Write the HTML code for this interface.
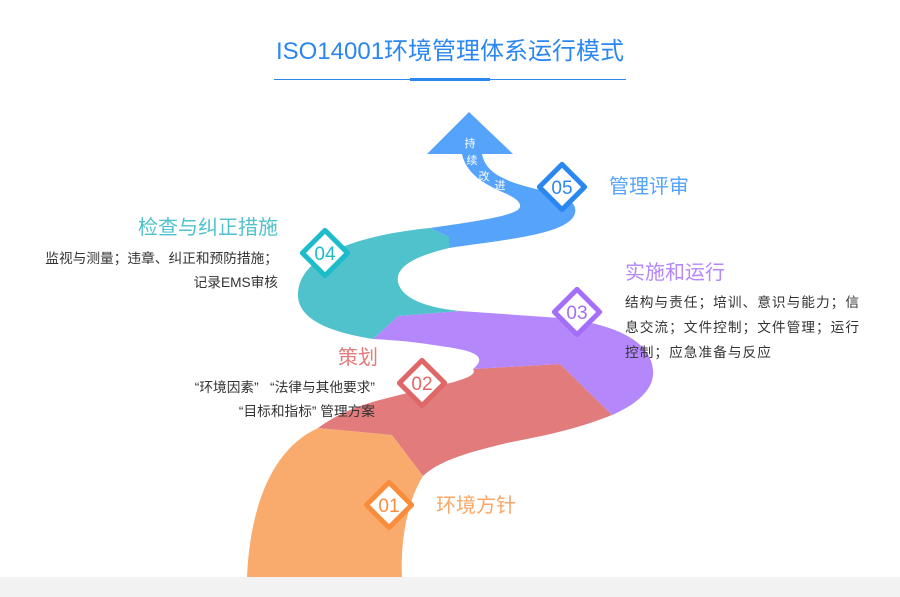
<!DOCTYPE html>
<html><head><meta charset="utf-8"><style>
body{margin:0;width:900px;height:597px;overflow:hidden;background:#fff;font-family:"Liberation Sans","Noto Sans CJK SC",sans-serif}
</style></head><body>
<svg width="900" height="597" viewBox="0 0 900 597" xmlns="http://www.w3.org/2000/svg" style="position:absolute;left:0;top:0">
<rect x="0" y="577" width="900" height="20" fill="#f2f2f2"/>
<text x="450" y="59" text-anchor="middle" font-size="24" fill="#2b87f0" font-family="Liberation Sans,Noto Sans CJK SC,sans-serif">ISO14001环境管理体系运行模式</text>
<rect x="274" y="79" width="352" height="1" fill="#2b87f0"/>
<rect x="410" y="78" width="80" height="3" fill="#2b87f0"/>
<!-- orange -->
<path d="M247,577 C250,510 270,450 318,428 L392,435 L423,476 C408,500 400,540 402,577 Z" fill="#f9ab6d"/>
<!-- red -->
<path d="M318,428 C350,405 380,400 420,390 C445,384 480,378 473,369 L560,364 L612,415 C570,432 530,438 507,443 C470,452 440,460 423,476 L392,435 Z" fill="#e27b7b"/>
<!-- purple -->
<path d="M373,339 L398,316 L460,311 L560,318 C600,322 650,335 653,370 C655,390 635,405 612,415 L560,364 L473,369 C490,355 470,350 440,346 C410,341 390,340 373,339 Z" fill="#b487fb"/>
<!-- teal -->
<path d="M373,339 C330,332 300,320 298,297 C296,255 360,235 430,228 L449,237 L449,248 C420,255 395,265 398,282 C402,300 430,308 460,311 L398,316 Z" fill="#50c2cc"/>
<!-- blue -->
<path d="M430,228 C470,222 518,216 520,207 C522,198 500,192 490,186 C475,178 465,168 462,154 L427,154 L469,112 L513,154 L482,154 C484,165 492,173 503,178 C515,184 525,186 540,190 C560,195 578,200 575,213 C570,235 500,240 449,248 L449,237 Z" fill="#55a3fa"/>
<g font-size="11" fill="#fff" text-anchor="middle">
<text x="470" y="147">持</text><text x="472" y="164">续</text><text x="484" y="180">改</text><text x="500" y="189">进</text>
</g>
<!-- diamonds -->
<g stroke-width="5" fill="#fff" stroke-linejoin="round">
<rect x="373" y="489" width="32" height="32" transform="rotate(45 389 505)" stroke="#f98d3c"/>
<rect x="406" y="367" width="32" height="32" transform="rotate(45 422 383)" stroke="#e06767"/>
<rect x="561" y="296" width="32" height="32" transform="rotate(45 577 312)" stroke="#a56ef8"/>
<rect x="309" y="237" width="32" height="32" transform="rotate(45 325 253)" stroke="#1cbccb"/>
<rect x="546" y="171" width="32" height="32" transform="rotate(45 562 187)" stroke="#2b87f0"/>
</g>
<g font-size="19" text-anchor="middle">
<text x="389" y="512" fill="#f98d3c">01</text>
<text x="422" y="390" fill="#e06767">02</text>
<text x="577" y="319" fill="#a56ef8">03</text>
<text x="325" y="260" fill="#1cbccb">04</text>
<text x="562" y="194" fill="#2b87f0">05</text>
</g>
<g font-size="20">
<text x="436" y="512" fill="#f9a666">环境方针</text>
<text x="378" y="364" text-anchor="end" fill="#e27b7b">策划</text>
<text x="625" y="279" fill="#b487fb">实施和运行</text>
<text x="278" y="234" text-anchor="end" fill="#50c2cc">检查与纠正措施</text>
<text x="609" y="193" fill="#55a3fa">管理评审</text>
</g>
<g font-size="13.7" fill="#333">
<text x="278" y="263" text-anchor="end">监视与测量；违章、纠正和预防措施；</text>
<text x="278" y="287" text-anchor="end">记录EMS审核</text>
<text x="375" y="392" text-anchor="end" xml:space="preserve">“环境因素”   “法律与其他要求”</text>
<text x="375" y="416" text-anchor="end" xml:space="preserve">“目标和指标” 管理方案</text>
</g>
<g font-size="13.7" fill="#333" letter-spacing="1">
<text x="625" y="307">结构与责任；培训、意识与能力；信</text>
<text x="625" y="332">息交流；文件控制；文件管理；运行</text>
<text x="625" y="357">控制；应急准备与反应</text>
</g>
</svg>
</body></html>
